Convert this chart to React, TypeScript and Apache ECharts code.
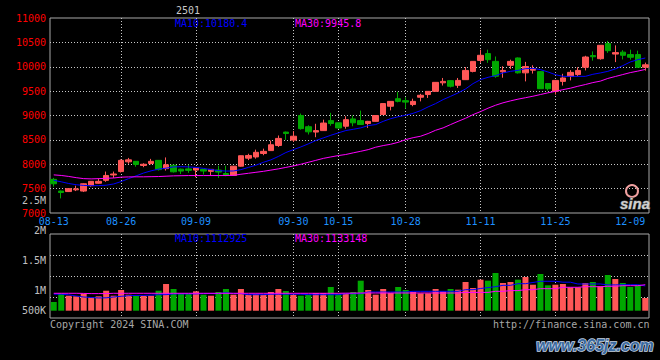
import React, { useEffect, useRef } from 'react';
import * as echarts from 'echarts';

// ---------- data ----------
const contract = '2501';
const dates = [
  '08-13','08-14','08-15','08-16','08-19','08-20','08-21','08-22','08-23','08-26',
  '08-27','08-28','08-29','08-30','09-02','09-03','09-04','09-05','09-06','09-09',
  '09-10','09-11','09-12','09-13','09-18','09-19','09-20','09-23','09-24','09-25',
  '09-26','09-27','09-30','10-08','10-09','10-10','10-11','10-14','10-15','10-16',
  '10-17','10-18','10-21','10-22','10-23','10-24','10-25','10-28','10-29','10-30',
  '10-31','11-01','11-04','11-05','11-06','11-07','11-08','11-11','11-12','11-13',
  '11-14','11-15','11-18','11-19','11-20','11-21','11-22','11-25','11-26','11-27',
  '11-28','11-29','12-02','12-03','12-04','12-05','12-06','12-09','12-10','12-11',
];
const opens = [
  7690,7450,7440,7475,7450,7560,7610,7670,7780,7850,
  8050,8060,7975,8015,8080,7910,7980,7900,7905,7880,
  7895,7855,7880,7810,7770,7960,8125,8150,8220,8280,
  8385,8660,8495,9000,8770,8660,8690,8895,8850,8780,
  8930,8895,8835,8880,9020,9190,9345,9305,9225,9375,
  9430,9495,9670,9715,9620,9735,9905,10130,10270,10110,
  9895,10030,10180,9875,9930,9900,9655,9495,9700,9800,
  9840,9990,10230,10165,10475,10260,10300,10250,10250,9990,
];
const closes = [
  7600,7420,7500,7495,7600,7650,7650,7770,7800,8080,
  8090,7995,8000,8060,7890,7990,7845,7860,7875,7925,
  7860,7895,7840,7770,7960,8175,8180,8245,8265,8400,
  8530,8630,8575,8730,8665,8690,8845,8835,8745,8915,
  8850,8815,8880,9000,9245,9290,9290,9275,9290,9415,
  9495,9680,9700,9600,9720,9925,10110,10235,10145,9805,
  9925,10110,9875,10005,9960,9550,9550,9720,9770,9885,
  9925,10200,10205,10440,10330,10290,10235,10195,9990,10040,
];
const lows = [
  7540,7300,7430,7450,7430,7540,7600,7640,7720,7830,
  8010,7950,7940,7995,7870,7870,7830,7800,7825,7735,
  7790,7770,7720,7755,7760,7950,8085,8115,8185,8275,
  8355,8500,8460,8710,8610,8555,8685,8790,8730,8730,
  8780,8810,8745,8875,9015,9105,9270,9140,9190,9290,
  9360,9490,9615,9575,9565,9730,9885,10080,10080,9775,
  9775,9955,9860,9700,9860,9545,9510,9430,9615,9720,
  9805,9925,10125,10145,10285,10095,10150,10145,9975,9920,
];
const highs = [
  7720,7460,7510,7560,7610,7655,7710,7850,7850,8100,
  8130,8065,8020,8110,8085,8140,7990,7910,7990,7930,
  7900,7900,7970,7970,7965,8180,8215,8300,8320,8485,
  8590,8670,8680,9040,8800,8830,8915,9055,8855,8985,
  9000,9100,8890,9005,9250,9295,9485,9375,9345,9445,
  9500,9685,9770,9720,9770,9995,10115,10350,10350,10210,
  10010,10145,10190,10100,10030,9910,9665,9725,9855,9930,
  9990,10225,10315,10445,10530,10440,10340,10350,10330,10085,
];
const ma10 = [
  7670,7640,7605,7580,7565,7560,7562,7570,7595,7645,
  7705,7762,7820,7865,7900,7920,7945,7950,7945,7935,
  7915,7890,7871,7860,7862,7890,7935,7980,8040,8090,
  8160,8240,8300,8355,8418,8486,8540,8594,8643,8691,
  8717,8746,8793,8814,8880,8935,8975,9005,9045,9100,
  9176,9244,9326,9393,9463,9545,9654,9736,9783,9818,
  9873,9906,9926,9961,9967,9941,9893,9838,9803,9803,
  9803,9803,9845,9873,9906,9955,10022,10098,10145,10180,
];
const ma30 = [
  7782,7770,7750,7725,7705,7700,7705,7712,7718,7735,
  7740,7742,7742,7745,7748,7755,7762,7765,7768,7768,
  7768,7768,7768,7768,7772,7795,7815,7835,7855,7880,
  7905,7935,7965,8000,8040,8080,8120,8150,8178,8200,
  8234,8266,8300,8350,8383,8410,8450,8505,8545,8575,
  8630,8697,8746,8814,8880,8943,9018,9080,9150,9210,
  9260,9300,9335,9365,9395,9430,9465,9495,9530,9560,
  9600,9635,9675,9705,9760,9800,9840,9880,9910,9945,
];
const volumes = [
  845000,983000,950000,940000,983000,923000,940000,1033000,950000,1045000,
  967000,950000,950000,950000,1033000,1145000,1062000,983000,983000,1023000,
  967000,950000,1012000,1062000,967000,1062000,967000,980000,967000,1012000,
  1062000,1028000,967000,950000,967000,995000,995000,1095000,983000,983000,
  1012000,1200000,1045000,967000,1062000,995000,1095000,1045000,1012000,990000,
  990000,1062000,1023000,1062000,1050000,1178000,1078000,1217000,1200000,1328000,
  1162000,1178000,1217000,1262000,1133000,1312000,1123000,1133000,1145000,1090000,
  1090000,1162000,1178000,1107000,1295000,1228000,1162000,1095000,1123000,912000,
];
const volMa10 = [
  975000,975000,965000,945000,928000,920000,912000,915000,928000,940000,
  950000,955000,955000,960000,967000,967000,980000,980000,980000,980000,
  985000,985000,985000,1000000,985000,985000,967000,967000,967000,975000,
  975000,975000,975000,975000,967000,967000,967000,967000,967000,983000,
  983000,983000,1012000,1012000,1012000,1012000,1012000,1012000,1023000,1023000,
  1023000,1023000,1023000,1023000,1023000,1050000,1050000,1070000,1085000,1100000,
  1123000,1123000,1150000,1150000,1170000,1190000,1190000,1190000,1175000,1175000,
  1145000,1145000,1145000,1145000,1130000,1130000,1133000,1133000,1133000,1113000,
];
const volMa30 = [
  990000,990000,990000,990000,988000,985000,985000,985000,990000,990000,
  990000,990000,990000,990000,990000,990000,990000,990000,990000,990000,
  990000,990000,990000,990000,990000,990000,990000,990000,990000,990000,
  990000,990000,990000,990000,990000,990000,990000,990000,990000,992000,
  993000,995000,995000,995000,995000,995000,995000,995000,995000,995000,
  995000,995000,995000,995000,995000,1005000,1005000,1005000,1005000,1023000,
  1023000,1035000,1035000,1050000,1050000,1067000,1067000,1067000,1090000,1090000,
  1090000,1100000,1100000,1100000,1107000,1107000,1117000,1117000,1117000,1133000,
];
const labelDates = ['08-13','08-26','09-09','09-30','10-15','10-28','11-11','11-25','12-09'];
const gridDates = ['08-26','09-09','09-30','10-15','10-28','11-11','11-25'];
const priceMaTexts = ['MA10:10180.4', 'MA30:9945.8'];
const volMaTexts = ['MA10:1112925', 'MA30:1133148'];
const volTickLabels = ['2.5M', '2M', '1.5M', '1M', '500K'];
const footerLeft = 'Copyright 2024 SINA.COM';
const footerRight = 'http://finance.sina.com.cn';
const watermark = 'www.365jz.com';
const logoText = 'sina';

// ---------- styles / layout ----------
const UP = '#FF5757';
const DOWN = '#00A800';
const BLUE = '#0000FF';
const MAGENTA = '#FF00FF';
const MONO = "'DejaVu Sans Mono', monospace";
const GRIDLINE = { color: '#C8C8C8', width: 1, type: [1, 2] as any };
const volLabelY = [200.3, 230.7, 260.7, 290.7, 310.7];

export default function App() {
  const ref = useRef<HTMLDivElement>(null);
  useEffect(() => {
    if (!ref.current) return;
    const chart = echarts.init(ref.current, null, { renderer: 'svg' });
    const candleData = dates.map((_, i) => [opens[i], closes[i], lows[i], highs[i]]);
    const volData = volumes.map((v, i) => ({
      value: v,
      itemStyle: { color: closes[i] >= opens[i] ? UP : DOWN },
    }));
    const labelFn = (_i: number, v: string) => labelDates.includes(v);
    const gridFn = (_i: number, v: string) => gridDates.includes(v);
    const txt = (text: string, x: number, y: number, fill: string, align = 'left', extra: any = {}) => ({
      type: 'text', x, y, silent: true, z: 50,
      style: {
        text, fill, textAlign: align, textVerticalAlign: 'middle',
        fontFamily: MONO, fontSize: 10, ...extra,
      },
    });
    const graphic: any[] = [
      txt(contract, 188, 10, '#C8C8C8', 'center'),
      txt(priceMaTexts[0], 175, 23.5, BLUE),
      txt(priceMaTexts[1], 295, 23.5, MAGENTA),
      txt(volMaTexts[0], 175, 238.5, BLUE),
      txt(volMaTexts[1], 295, 238.5, MAGENTA),
      ...volTickLabels.map((t, k) => txt(t, 46, volLabelY[k], '#C0C0C0', 'right')),
      txt(footerLeft, 50, 324, '#A8A8A8'),
      txt(footerRight, 649.5, 324, '#A8A8A8', 'right'),
      {
        type: 'circle', silent: true, z: 50,
        shape: { cx: 632, cy: 191, r: 6 },
        style: { fill: 'none', stroke: '#F0A0A0', lineWidth: 2 },
      },
      txt(logoText, 635, 203, '#D0D0D0', 'center', {
        fontFamily: "'Liberation Sans', sans-serif", fontSize: 15, fontWeight: 'bold', fontStyle: 'italic',
        stroke: '#606060', lineWidth: 1,
      }),
      txt(watermark, 595, 345, '#3B6AA0', 'center', {
        fontFamily: "'Liberation Sans', sans-serif", fontSize: 16, fontWeight: 'bold', fontStyle: 'italic',
        stroke: '#C8D6E6', lineWidth: 1.5,
      }),
    ];

    chart.setOption({
      animation: false,
      backgroundColor: '#000000',
      grid: [
        { left: 50, top: 18, width: 599, height: 195, show: true, borderColor: '#A8A8A8', borderWidth: 1 },
        { left: 50, top: 234, width: 599, height: 84, show: true, borderColor: '#A8A8A8', borderWidth: 1 },
        { left: 50, top: 234, width: 599, height: 76.7, show: false },
      ],
      xAxis: [
        {
          type: 'category', gridIndex: 0, data: dates, boundaryGap: true,
          axisLine: { show: false }, axisTick: { show: false },
          axisLabel: { interval: labelFn, color: '#1E90FF', fontFamily: MONO, fontSize: 10, margin: 3 },
          splitLine: { show: true, interval: gridFn, alignWithLabel: true, lineStyle: GRIDLINE },
        },
        {
          type: 'category', gridIndex: 1, data: dates, boundaryGap: true,
          axisLine: { show: false }, axisTick: { show: false }, axisLabel: { show: false },
          splitLine: { show: true, interval: gridFn, alignWithLabel: true, lineStyle: GRIDLINE },
        },
        { type: 'category', gridIndex: 2, data: dates, boundaryGap: true, show: false },
      ],
      yAxis: [
        {
          type: 'value', gridIndex: 0, min: 7000, max: 11000, interval: 500,
          axisLine: { show: false }, axisTick: { show: false },
          axisLabel: {
            color: '#FF0000', fontFamily: MONO, fontSize: 10, margin: 4, padding: [0, 0, 3, 0],
            formatter: (v: number) => String(v),
          },
          splitLine: { show: true, showMinLine: false, showMaxLine: false, lineStyle: GRIDLINE },
        },
        {
          type: 'value', gridIndex: 1, min: 0, max: 4, interval: 1,
          axisLine: { show: false }, axisTick: { show: false }, axisLabel: { show: false },
          splitLine: { show: true, showMinLine: false, showMaxLine: false, lineStyle: GRIDLINE },
        },
        { type: 'value', gridIndex: 2, min: 700000, max: 1978000, show: false, splitLine: { show: false } },
      ],
      series: [
        {
          type: 'candlestick', xAxisIndex: 0, yAxisIndex: 0, data: candleData, barWidth: 6,
          itemStyle: { color: UP, color0: DOWN, borderColor: UP, borderColor0: DOWN, borderWidth: 1 },
          silent: true,
        },
        {
          type: 'line', xAxisIndex: 0, yAxisIndex: 0, data: ma10, symbol: 'none', silent: true,
          lineStyle: { color: BLUE, width: 1 }, z: 3,
        },
        {
          type: 'line', xAxisIndex: 0, yAxisIndex: 0, data: ma30, symbol: 'none', silent: true,
          lineStyle: { color: MAGENTA, width: 1 }, z: 3,
        },
        {
          type: 'bar', xAxisIndex: 2, yAxisIndex: 2, data: volData, barWidth: 6, silent: true,
        },
        {
          type: 'line', xAxisIndex: 2, yAxisIndex: 2, data: volMa10, symbol: 'none', silent: true,
          lineStyle: { color: BLUE, width: 1 }, z: 3,
        },
        {
          type: 'line', xAxisIndex: 2, yAxisIndex: 2, data: volMa30, symbol: 'none', silent: true,
          lineStyle: { color: MAGENTA, width: 1 }, z: 3,
        },
      ],
      graphic,
    });
    return () => chart.dispose();
  }, []);
  return (
    <div
      ref={ref}
      style={{ position: 'fixed', left: 0, top: 0, width: 660, height: 360, background: '#000' }}
    />
  );
}
